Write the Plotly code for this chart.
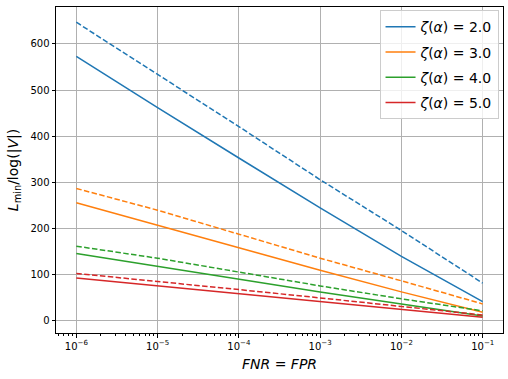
"""Minimum length vs error rate, solid and dashed per zeta level."""

import plotly.graph_objects as go

# error rates (FNR = FPR)
rates = [1e-6, 1e-5, 1e-4, 1e-3, 1e-2, 1e-1]

zeta_labels = ["2.0", "3.0", "4.0", "5.0"]

solid_2 = [573, 462, 353, 245, 140, 42]
dashed_2 = [647, 534, 421, 306, 196, 82]
solid_3 = [256, 207, 158, 110, 63, 19]
dashed_3 = [287, 240, 188, 136, 87, 37]
solid_4 = [146, 118, 90, 63, 37, 11]
dashed_4 = [162, 136, 106, 76, 48, 22]
solid_5 = [93, 76, 59, 42, 25, 8]
dashed_5 = [103, 86, 68, 50, 32, 13]

solid_series = [solid_2, solid_3, solid_4, solid_5]
dashed_series = [dashed_2, dashed_3, dashed_4, dashed_5]
colors = ["#1f77b4", "#ff7f0e", "#2ca02c", "#d62728"]

FONT = "DejaVu Sans"

fig = go.Figure()
for lab, sol, das, c in zip(zeta_labels, solid_series, dashed_series, colors):
    fig.add_trace(go.Scatter(
        x=rates, y=sol, mode="lines", name=f"<i>ζ</i>(<i>α</i>) = {lab}",
        legendgroup=lab, line=dict(color=c, width=1.5),
    ))
    fig.add_trace(go.Scatter(
        x=rates, y=das, mode="lines", showlegend=False, legendgroup=lab,
        line=dict(color=c, width=1.5, dash="5.5px,2.4px"),
    ))

# minor ticks 2..9 per decade, like matplotlib
minor_vals = [m * 10.0 ** e for e in range(-7, 0) for m in range(2, 10)]
major_vals = [10.0 ** e for e in range(-6, 0)]
major_text = [f"10<sup>−{-e}</sup>" for e in range(-6, 0)]

axis_common = dict(
    showline=True, linecolor="black", linewidth=1, mirror=True,
    ticks="outside", ticklen=3.5, tickcolor="black", tickwidth=1,
    showgrid=True, gridcolor="#b0b0b0", gridwidth=0.8,
    zeroline=False, automargin=False,
    tickfont=dict(family=FONT, size=10, color="black"),
)

fig.update_xaxes(
    type="log", range=[-6.25, -0.75],
    tickvals=major_vals, ticktext=major_text,
    minor=dict(tickvals=minor_vals, ticks="outside", ticklen=2,
               tickcolor="black", tickwidth=0.6, showgrid=False),
    title=dict(text="<i>FNR</i> = <i>FPR</i>", font=dict(family=FONT, size=14, color="black"),
               standoff=8),
    **axis_common,
)
fig.update_yaxes(
    range=[-26, 680], tickvals=[0, 100, 200, 300, 400, 500, 600],
    title=dict(text="<i>L</i><sub>min</sub>/log(|<i>V</i>|)", font=dict(family=FONT, size=14, color="black"),
               standoff=8),
    **axis_common,
)

fig.update_layout(
    width=508, height=379,
    margin=dict(l=56, r=5, t=7, b=46),
    plot_bgcolor="white", paper_bgcolor="white",
    font=dict(family=FONT, color="black"),
    legend=dict(
        x=0.99, y=0.99, xanchor="right", yanchor="top",
        bgcolor="rgba(255,255,255,0.8)", bordercolor="#cccccc", borderwidth=1,
        font=dict(family=FONT, size=14, color="black"),
        tracegroupgap=4, itemwidth=30,
    ),
)

# drop the default page margin so the figure sits at the window's corner
fig.write_html(
    "out.html",
    config={"displayModeBar": False},
    post_script="document.body.style.margin = '0';",
)
